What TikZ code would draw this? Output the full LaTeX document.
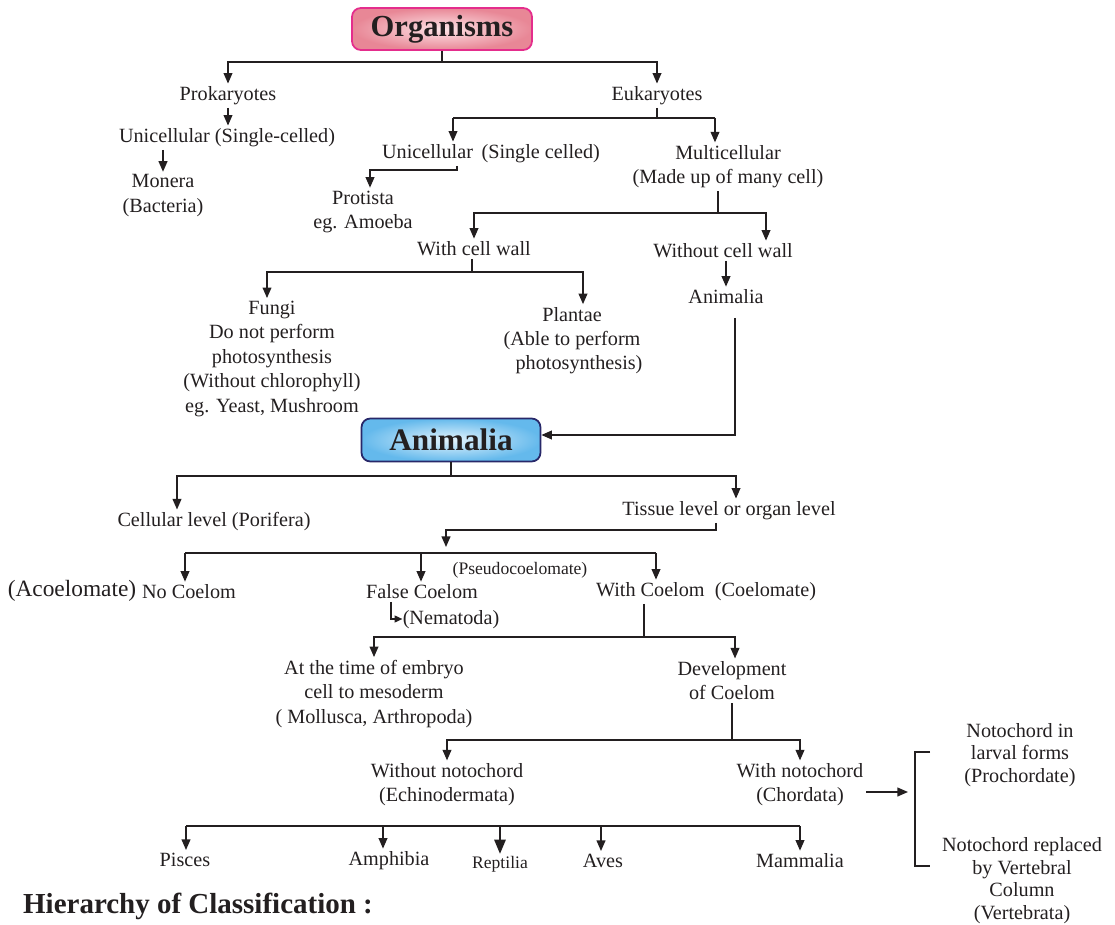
\documentclass[tikz,border=0pt]{standalone}
\usepackage{fontspec}
\setmainfont{Liberation Serif}
\usetikzlibrary{arrows.meta,positioning}
\definecolor{ink}{RGB}{35,31,32}
\definecolor{orgOuter}{RGB}{232,135,150}
\definecolor{orgInner}{RGB}{253,228,231}
\definecolor{orgBorder}{RGB}{228,45,140}
\definecolor{anOuter}{RGB}{100,185,236}
\definecolor{anInner}{RGB}{228,244,253}
\definecolor{anBorder}{RGB}{40,40,105}
\tikzset{
  txt/.style={align=center, text=ink, font=\fontsize{11.5}{13.9}\selectfont, inner xsep=0pt, inner ysep=1.5pt, yshift=-0.055cm},
  tighttxt/.style={txt, font=\fontsize{11.5}{12.8}\selectfont},
  smalltxt/.style={txt, font=\fontsize{10}{12}\selectfont},
  bigtxt/.style={txt, font=\fontsize{13.3}{16}\selectfont},
  conn/.style={draw=ink, line width=0.8pt},
  arr/.style={conn, -{Triangle[length=6pt,width=5pt]}},
  bigarr/.style={conn, -{Triangle[length=8pt,width=6.5pt]}},
  tinyarr/.style={conn, -{Triangle[length=4.5pt,width=4pt]}},
  orgbox/.style={rounded corners=5pt, draw=orgBorder, line width=1pt, inner color=orgInner, outer color=orgOuter,
     minimum width=3.6cm, minimum height=0.84cm, font=\fontsize{17.4}{20}\selectfont\bfseries, text=ink},
  anbox/.style={rounded corners=5pt, draw=anBorder, line width=1pt, inner color=anInner, outer color=anOuter,
     minimum width=3.58cm, minimum height=0.86cm, font=\fontsize{17.8}{20}\selectfont\bfseries, text=ink},
}
\begin{document}
\begin{tikzpicture}[x=0.02cm,y=-0.02cm]
\useasboundingbox (0,0) rectangle (1115,925);
% boxes
\node[orgbox] (org) at (442,29) {Organisms};
\node[anbox] (anim) at (451,440) {Animalia};
% text nodes
\node[txt] (prok) at (228,93) {Prokaryotes};
\node[txt] (euk) at (657,93) {Eukaryotes};
\node[txt] (uni1) at (227,135) {Unicellular (Single-celled)};
\node[txt] (mon) at (163,193) {Monera\\(Bacteria)};
\node[txt] (uni2) at (491,151) {Unicellular\hspace{2pt} (Single celled)};
\node[txt] (prot) at (363,209) {Protista\\eg. Amoeba};
\node[txt] (multi) at (728,164) {Multicellular\\(Made up of many cell)};
\node[txt] (wcw) at (474,246) {With cell wall};
\node[txt] (wocw) at (723,248) {Without cell wall};
\node[txt] (anm) at (726,294) {Animalia};
\node[txt] (fungi) at (272,356) {Fungi\\Do not perform\\photosynthesis\\(Without chlorophyll)\\eg. Yeast, Mushroom};
\node[txt] (plantae) at (572,338) {Plantae\\(Able to perform\\\hspace{8pt}photosynthesis)};
\node[txt] (cell) at (214,519) {Cellular level (Porifera)};
\node[txt] (tissue) at (729,508) {Tissue level or organ level};
\node[bigtxt] (acoel) at (72,588) {(Acoelomate)};
\node[txt] (noc) at (189,589) {No Coelom};
\node[txt] (false) at (422,589) {False Coelom};
\node[smalltxt] (pseudo) at (520,568) {(Pseudocoelomate)};
\node[txt] (withc) at (706,589) {With Coelom\hspace{3pt} (Coelomate)};
\node[txt] (nema) at (451,617) {(Nematoda)};
\node[txt] (embryo) at (374,691) {At the time of embryo\\cell to mesoderm\\( Mollusca, Arthropoda)};
\node[txt] (dev) at (732,678) {Development\\of Coelom};
\node[txt] (wonc) at (447,782) {Without notochord\\(Echinodermata)};
\node[txt] (wnc) at (800,782) {With notochord\\(Chordata)};
\node[tighttxt] (larval) at (1020,752) {Notochord in\\larval forms\\(Prochordate)};
\node[tighttxt] (vert) at (1022,878) {Notochord replaced\\by Vertebral\\Column\\(Vertebrata)};
\node[txt] (pisces) at (185,857) {Pisces};
\node[txt] (amph) at (389,858) {Amphibia};
\node[smalltxt] (rept) at (500,862) {Reptilia};
\node[txt] (aves) at (603,858) {Aves};
\node[txt] (mamm) at (800,858) {Mammalia};
\node[text=ink, font=\fontsize{16.5}{19}\selectfont\bfseries, inner sep=0pt] (title) at (198,906) {Hierarchy of Classification :};
% coordinates
\coordinate (b1) at (446,62);
\coordinate (b2) at (657,118);
\coordinate (a2) at (453,118);
\coordinate (a3) at (715,118);
\coordinate (c1) at (457,170);
\coordinate (c2) at (370,170);
\coordinate (d0) at (718,213);
\coordinate (d1) at (766,213);
\coordinate (e0) at (472,272);
\coordinate (e1) at (267,272);
\coordinate (e2) at (583,272);
\coordinate (f1) at (735,318);
\coordinate (f0) at (735,435);
\coordinate (g0) at (451,476);
\coordinate (g1) at (177,476);
\coordinate (g2) at (736,476);
\coordinate (h0) at (716,530);
\coordinate (h1) at (446,530);
\coordinate (h2) at (446,547);
\coordinate (i1) at (185,553);
\coordinate (i2) at (421,553);
\coordinate (i3) at (656,553);
\coordinate (n0) at (391,619);
\coordinate (k0) at (644,637);
\coordinate (k1) at (374,637);
\coordinate (k2) at (735,637);
\coordinate (m0) at (732,740);
\coordinate (m1) at (447,740);
\coordinate (m2) at (800,740);
\coordinate (p0) at (866,792);
\coordinate (p1) at (908,792);
\coordinate (q1) at (930,752);
\coordinate (q2) at (915,752);
\coordinate (q3) at (915,866);
\coordinate (q4) at (930,866);
\coordinate (r1) at (186,826);
\coordinate (r2) at (383,826);
\coordinate (r3) at (500,826);
\coordinate (r4) at (601,826);
\coordinate (r5) at (800,826);
% connectors
\draw[conn] (org.south) -- (org.south |- b1);
\draw[arr] (org.south |- b1) -| (prok.north);
\draw[arr] (org.south |- b1) -| (euk.north);
\draw[arr] (prok.south) -- (prok.south |- uni1.north);
\draw[arr] (uni1.south -| mon.north) -- (mon.north);
\draw[conn] (euk.south) -- (b2);
\draw[conn] (a2) -- (a3);
\draw[arr] (a2) -- (a2 |- uni2.north);
\draw[arr] (a3) -- (a3 |- multi.north);
\draw[arr] (c1 |- uni2.south) -- (c1) -- (c2) -- (c2 |- prot.north);
\draw[conn] (d0 |- multi.south) -- (d0);
\draw[arr] (d0) -| (wcw.north);
\draw[arr] (d0) -- (d1) -- (d1 |- wocw.north);
\draw[arr] (wocw.south -| anm.north) -- (anm.north);
\draw[conn] (e0 |- wcw.south) -- (e0);
\draw[arr] (e0) -- (e1) -- (e1 |- fungi.north);
\draw[arr] (e0) -- (e2) -- (e2 |- plantae.north);
\draw[arr] (f1) -- (f0) -- (f0 -| anim.east);
\draw[conn] (anim.south) -- (anim.south |- g0);
\draw[arr] (anim.south |- g0) -- (g1) -- (g1 |- cell.north);
\draw[arr] (anim.south |- g0) -- (g2) -- (g2 |- tissue.north);
\draw[arr] (h0 |- tissue.south) -- (h0) -- (h1) -- (h2);
\draw[conn] (i1) -- (i3);
\draw[arr] (i1) -- (i1 |- noc.north);
\draw[arr] (i2) -- (i2 |- false.north);
\draw[arr] (i3) -- (i3 |- withc.north);
\draw[tinyarr] (n0 |- false.south) -- (n0) -- (n0 -| nema.west);
\draw[conn] (k0 |- withc.south) -- (k0);
\draw[arr] (k0) -| (embryo.north);
\draw[arr] (k0) -- (k2) -- (k2 |- dev.north);
\draw[conn] (m0 |- dev.south) -- (m0);
\draw[arr] (m0) -| (wonc.north);
\draw[arr] (m0) -| (wnc.north);
\draw[arr] (p0) -- (p1);
\draw[conn] (q1) -- (q2) -- (q3) -- (q4);
\draw[conn] (r1) -- (r5);
\draw[arr] (r1) -- (r1 |- pisces.north);
\draw[arr] (r2) -- (r2 |- amph.north);
\draw[bigarr] (r3) -- (r3 |- rept.north);
\draw[arr] (r4) -- (r4 |- aves.north);
\draw[arr] (r5) -- (r5 |- mamm.north);
\end{tikzpicture}
\end{document}
